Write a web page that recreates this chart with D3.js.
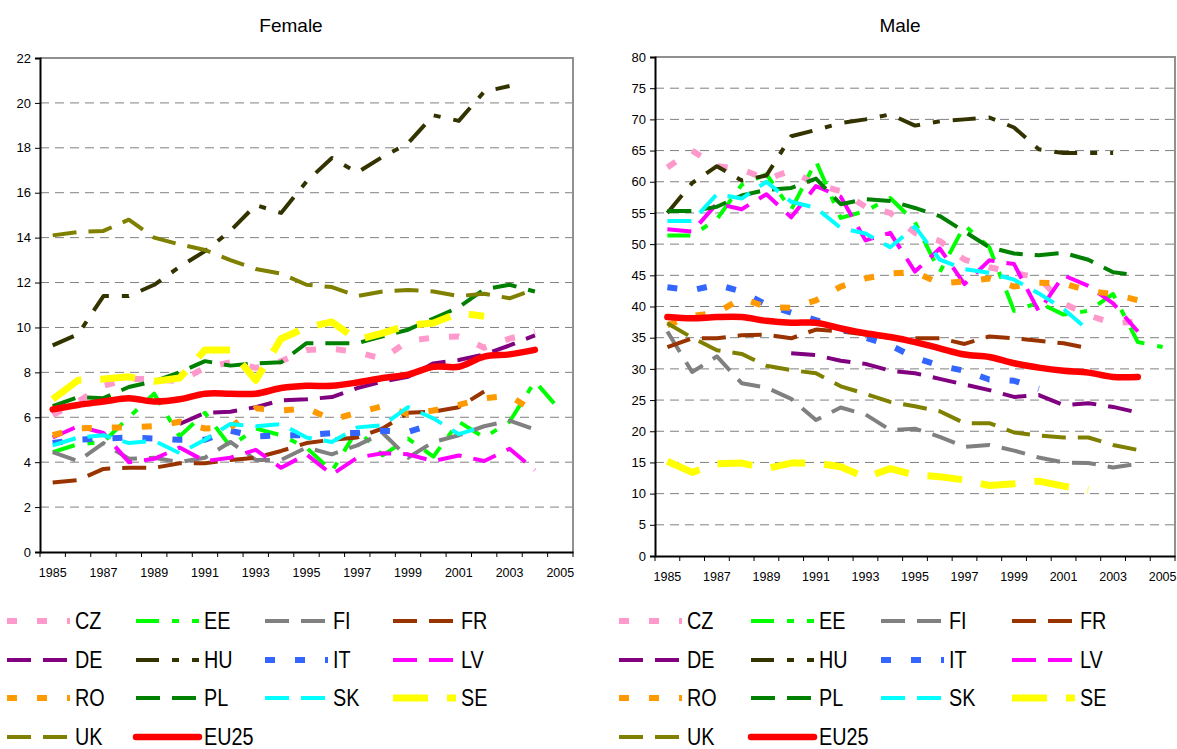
<!DOCTYPE html>
<html>
<head>
<meta charset="utf-8">
<script src="https://cdn.jsdelivr.net/npm/d3@7"></script>
<style>
  body { margin: 0; background: #fff; }
  svg { font-family: "Liberation Sans", Arial, sans-serif; }
</style>
</head>
<body>
<svg id="chart" width="1177" height="749"></svg>
<script>
// years on the category axis
const years = d3.range(1985, 2006);
const countries = ["CZ", "EE", "FI", "FR", "DE", "HU", "IT", "LV", "RO", "PL", "SK", "SE", "UK", "EU25"];

// Female values, 1985..2005 (null = no data)
const femaleCZ = [6.1, 6.7, 7.4, 7.7, 7.7, 7.6, 8.2, 8.45, 8.2, 8.5, 9.0, 9.05, 8.9, 8.6, 9.4, 9.55, 9.6, 9.1, 9.5, 9.8];
const femaleEE = [4.45, 4.8, 4.9, 6.0, 7.05, 5.15, 6.2, 4.7, 5.5, 5.2, 4.65, 3.6, 5.45, 4.3, 5.05, 4.25, 5.8, 5.1, 5.8, 7.6, 6.3];
const femaleFI = [4.45, 4.05, 4.85, 4.15, 4.2, 4.0, 4.2, 4.9, 4.1, 4.1, 4.65, 4.35, 4.75, 5.3, 4.2, 4.9, 5.2, 5.6, 5.85, 5.45];
const femaleFR = [3.1, 3.2, 3.7, 3.75, 3.75, 3.95, 3.95, 4.1, 4.2, 4.5, 4.85, 5.0, 5.1, 5.5, 6.2, 6.25, 6.45, 7.15];
const femaleDE = [null, null, null, null, null, 5.7, 6.2, 6.25, 6.45, 6.75, 6.8, 6.9, 7.3, 7.6, 7.8, 8.4, 8.55, 8.8, 9.2, 9.65];
const femaleHU = [9.2, 9.7, 11.4, 11.4, 11.9, 12.7, 13.4, 14.3, 15.45, 15.1, 16.5, 17.55, 16.9, 17.6, 18.2, 19.45, 19.2, 20.5, 20.75];
const femaleIT = [4.85, 5.0, 5.05, 5.1, 5.05, 5.0, 5.0, 5.4, 5.15, 5.2, 5.2, 5.3, 5.3, 5.4, 5.35, 5.7];
const femaleLV = [5.1, 5.6, 5.3, 4.0, 4.15, 4.65, 4.05, 4.2, 4.55, 3.75, 4.35, 3.45, 4.2, 4.4, 4.35, 4.05, 4.3, 4.05, 4.6, 3.65];
const femaleRO = [5.2, 5.5, 5.55, 5.55, 5.6, 5.8, 5.5, 5.55, 6.4, 6.3, 6.4, 5.9, 6.2, 6.5, 6.15, 6.3, 6.55, 6.85, 6.95, 6.25];
const femalePL = [6.5, 6.9, 6.85, 7.35, 7.6, 8.0, 8.5, 8.3, 8.4, 8.45, 9.3, 9.3, 9.3, 9.6, 9.9, 10.4, 10.9, 11.7, 11.9, 11.6];
const femaleSK = [4.75, 5.1, 5.2, 4.85, 4.95, 4.4, 5.0, 5.7, 5.6, 5.7, 5.1, 4.9, 5.55, 5.65, 6.45, 5.95, 5.25, 5.6];
const femaleSE = [6.8, 7.65, 7.7, 7.8, 7.6, 7.75, 9.0, 9.0, 7.65, 9.5, 10.0, 10.25, 9.45, 9.75, 10.1, 10.2, 10.65, 10.5];
const femaleUK = [14.1, 14.25, 14.3, 14.8, 14.0, 13.7, 13.45, 13.0, 12.6, 12.4, 11.9, 11.8, 11.4, 11.6, 11.67, 11.6, 11.4, 11.5, 11.3, 11.7];
const femaleEU25 = [6.35, 6.55, 6.7, 6.85, 6.7, 6.8, 7.05, 7.05, 7.05, 7.3, 7.4, 7.4, 7.55, 7.75, 7.9, 8.25, 8.25, 8.7, 8.8, 9.0];

// Male values, 1985..2005
const maleCZ = [62.3, 65.0, 62.5, 62.0, 60.4, 61.8, 59.6, 58.5, 56.0, 55.0, 51.8, 50.5, 47.5, 46.3, 45.4, 44.6, 40.5, 38.6, 37.3, 37.6];
const maleEE = [51.4, 51.4, 54.0, 59.5, 61.2, 55.5, 63.3, 54.2, 55.3, 57.4, 53.5, 45.5, 53.0, 49.5, 39.3, 40.6, 38.7, 39.3, 42.0, 34.3, 33.5];
const maleFI = [36.0, 29.5, 32.0, 27.7, 27.0, 25.2, 21.8, 23.8, 22.7, 20.2, 20.4, 19.1, 17.5, 17.8, 16.9, 15.8, 15.0, 14.9, 14.2, 14.8];
const maleFR = [33.5, 34.9, 34.9, 35.4, 35.5, 34.9, 36.3, 36.0, 35.5, 35.0, 34.9, 34.9, 34.0, 35.2, 34.9, 34.5, 34.1, 33.3];
const maleDE = [null, null, null, null, null, 32.5, 32.2, 31.3, 30.8, 29.7, 29.3, 28.4, 27.5, 26.6, 25.5, 25.8, 24.2, 24.5, 23.9, 23.0];
const maleHU = [55.0, 59.8, 62.5, 60.2, 61.0, 67.3, 68.3, 69.4, 70.0, 70.8, 69.0, 69.7, 70.0, 70.3, 68.7, 65.2, 64.6, 64.6, 64.6];
const maleIT = [43.1, 42.6, 43.5, 42.4, 40.3, 39.0, 37.8, 36.5, 35.0, 33.8, 31.8, 30.5, 29.7, 28.3, 28.1, 26.8];
const maleLV = [52.4, 52.0, 56.5, 55.6, 58.0, 54.3, 59.3, 57.6, 50.6, 51.8, 45.6, 49.3, 43.6, 47.4, 46.8, 39.2, 45.0, 43.3, 40.5, 36.0];
const maleRO = [37.0, 38.5, 39.0, 41.3, 39.9, 39.8, 41.0, 43.2, 44.5, 45.3, 45.5, 43.7, 44.0, 44.5, 43.2, 43.8, 43.7, 42.5, 42.0, 41.0];
const malePL = [55.3, 55.3, 56.0, 57.8, 58.7, 59.0, 60.5, 56.4, 57.2, 56.9, 55.8, 54.5, 52.0, 49.5, 48.5, 48.2, 48.6, 47.5, 45.5, 45.0];
const maleSK = [53.7, 53.7, 58.0, 57.3, 60.0, 56.8, 55.8, 52.6, 51.7, 49.5, 52.8, 47.5, 46.0, 45.4, 44.3, 42.1, 39.6, 36.2];
const maleSE = [15.2, 13.4, 14.8, 14.9, 14.0, 14.9, 14.9, 14.3, 12.6, 14.0, 13.0, 12.7, 12.2, 11.3, 11.6, 12.0, 11.2, 10.6];
const maleUK = [37.3, 35.0, 33.0, 32.4, 30.5, 29.8, 29.3, 27.2, 26.0, 24.7, 24.0, 23.2, 21.3, 21.3, 19.8, 19.3, 19.0, 19.0, 17.8, 17.0];
const maleEU25 = [38.3, 38.1, 38.3, 38.3, 37.7, 37.4, 37.4, 36.5, 35.7, 35.1, 34.3, 33.3, 32.3, 31.9, 30.9, 30.2, 29.7, 29.4, 28.7, 28.7];

const femaleTicks = d3.range(0, 23, 2);
const maleTicks = d3.range(0, 81, 5);

// line styles per country
const styles = {
  CZ:   {color: "#FF99CC", width: 6, dash: "10,20"},
  EE:   {color: "#00FF00", width: 4, dash: "23,13,7,13"},
  FI:   {color: "#808080", width: 4, dash: "24,12"},
  FR:   {color: "#993300", width: 4, dash: "24,12"},
  DE:   {color: "#800080", width: 4, dash: "24,12"},
  HU:   {color: "#333300", width: 4, dash: "23,13,7,13"},
  IT:   {color: "#3366FF", width: 6, dash: "10,20"},
  LV:   {color: "#FF00FF", width: 4, dash: "24,12"},
  RO:   {color: "#FF9900", width: 6, dash: "10,20"},
  PL:   {color: "#008000", width: 4, dash: "24,12"},
  SK:   {color: "#00FFFF", width: 4, dash: "24,12"},
  SE:   {color: "#FFFF00", width: 7, dash: "35,19"},
  UK:   {color: "#808000", width: 4, dash: "24,12"},
  EU25: {color: "#FF0000", width: 6.5, dash: null}
};

const femaleData = {CZ: femaleCZ, EE: femaleEE, FI: femaleFI, FR: femaleFR, DE: femaleDE, HU: femaleHU, IT: femaleIT,
  LV: femaleLV, RO: femaleRO, PL: femalePL, SK: femaleSK, SE: femaleSE, UK: femaleUK, EU25: femaleEU25};
const maleData = {CZ: maleCZ, EE: maleEE, FI: maleFI, FR: maleFR, DE: maleDE, HU: maleHU, IT: maleIT,
  LV: maleLV, RO: maleRO, PL: malePL, SK: maleSK, SE: maleSE, UK: maleUK, EU25: maleEU25};

const svg = d3.select("#chart");

function drawPanel(opts) {
  let g = svg.append("g");
  let x = d3.scaleBand().domain(years).range([opts.left, opts.right]);
  let y = d3.scaleLinear().domain([0, opts.max]).range([opts.bottom, opts.top]);

  // title
  g.append("text")
    .attr("x", opts.titleX).attr("y", 32)
    .attr("text-anchor", "middle")
    .attr("font-size", 19)
    .text(opts.title);

  // grid lines
  g.selectAll(".grid")
    .data(opts.ticks.filter(t => t > 0 && t < opts.max))
    .enter().append("line")
    .attr("x1", opts.left).attr("x2", opts.right)
    .attr("y1", d => y(d)).attr("y2", d => y(d))
    .attr("stroke", "#808080").attr("stroke-width", 1)
    .attr("stroke-dasharray", "9,6");

  // frame top and right
  g.append("path")
    .attr("d", `M${opts.left},${opts.top}H${opts.right}V${opts.bottom}`)
    .attr("fill", "none").attr("stroke", "#909090").attr("stroke-width", 2);

  // y axis
  let yAxis = d3.axisLeft(y).tickValues(opts.ticks).tickSize(5).tickPadding(4);
  g.append("g")
    .attr("transform", `translate(${opts.left},0)`)
    .call(yAxis)
    .call(a => a.select(".domain").attr("stroke", "#000").attr("stroke-width", 2))
    .call(a => a.selectAll("text").attr("font-size", 13).attr("fill", "#000")
      .attr("font-family", "Liberation Sans, Arial, sans-serif"));

  // x axis: ticks at category boundaries, labels every other year
  let xAxis = d3.axisBottom(x).tickSize(0).tickPadding(16)
    .tickFormat(d => (d - 1985) % 2 === 0 ? d : "");
  g.append("g")
    .attr("transform", `translate(0,${opts.bottom})`)
    .call(xAxis)
    .call(a => a.select(".domain").attr("stroke", "#000").attr("stroke-width", 2))
    .call(a => a.selectAll("text").attr("font-size", 12.5).attr("fill", "#000")
      .attr("font-family", "Liberation Sans, Arial, sans-serif"));
  g.selectAll(".xtick")
    .data(d3.range(years.length + 1))
    .enter().append("line")
    .attr("x1", i => opts.left + i * x.step()).attr("x2", i => opts.left + i * x.step())
    .attr("y1", opts.bottom).attr("y2", opts.bottom + 5)
    .attr("stroke", "#000").attr("stroke-width", 1);

  // series
  let line = d3.line()
    .defined(d => d.v != null)
    .x(d => x(d.year) + x.bandwidth() / 2)
    .y(d => y(d.v));

  countries.forEach(c => {
    let vals = opts.data[c].map((v, i) => ({year: years[i], v: v}));
    let st = styles[c];
    line.curve(c === "EU25" ? d3.curveCatmullRom.alpha(0.5) : d3.curveLinear);
    g.append("path")
      .datum(vals)
      .attr("d", line)
      .attr("fill", "none")
      .attr("stroke", st.color)
      .attr("stroke-width", st.width)
      .attr("stroke-dasharray", st.dash)
      .attr("stroke-linecap", c === "EU25" ? "round" : "butt")
      .attr("stroke-linejoin", "round");
  });

  // legend
  let rows = [[0, 1, 2, 3], [4, 5, 6, 7], [8, 9, 10, 11], [12, 13]];
  let rowY = [621, 660, 698, 737];
  rows.forEach((r, ri) => {
    r.forEach((ci, k) => {
      let c = countries[ci];
      let st = styles[c];
      let lx = opts.legendX[k];
      g.append("line")
        .attr("x1", lx).attr("x2", lx + opts.legendLen)
        .attr("y1", rowY[ri]).attr("y2", rowY[ri])
        .attr("stroke", st.color)
        .attr("stroke-width", st.width)
        .attr("stroke-dasharray", st.dash)
        .attr("stroke-linecap", c === "EU25" ? "round" : "butt");
      g.append("text")
        .attr("transform", `translate(${lx + opts.legendLen + 5},${rowY[ri] + 8}) scale(0.86,1)`)
        .attr("font-size", 23)
        .text(c);
    });
  });
}

drawPanel({title: "Female", titleX: 291, left: 40, right: 573, top: 58, bottom: 552, max: 22,
  ticks: femaleTicks, data: femaleData, legendX: [7, 136, 265, 393], legendLen: 63});
drawPanel({title: "Male", titleX: 900, left: 655, right: 1175, top: 57, bottom: 556, max: 80,
  ticks: maleTicks, data: maleData, legendX: [619, 751, 881, 1012], legendLen: 63});
</script>
</body>
</html>
